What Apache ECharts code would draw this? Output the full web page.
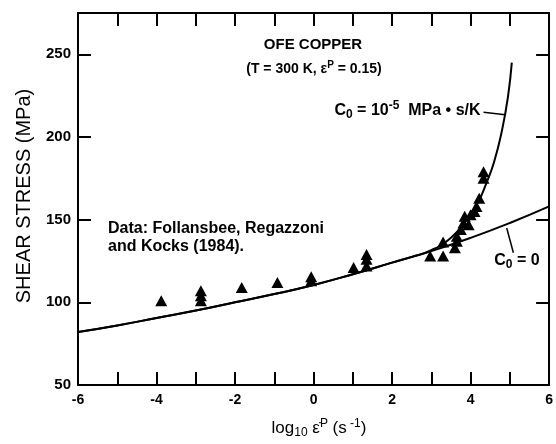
<!DOCTYPE html>
<html>
<head>
<meta charset="utf-8">
<script src="https://cdn.jsdelivr.net/npm/echarts@6/dist/echarts.min.js"></script>
<style>
  html, body { margin: 0; padding: 0; background: #fff; }
  #chart { width: 556px; height: 444px; }
</style>
</head>
<body>
<div id="chart"></div>
<script>
// Model curve for C0 = 0 (log10 strain rate vs. shear stress, MPa)
const rateC0Zero = [-6, -5, -4, -3, -2, -1, 0, 1, 2, 3, 4, 5, 6];
const stressC0Zero = [82, 86, 90.5, 95, 100, 105, 110.5, 117, 124, 131, 139, 148, 158];

// Model curve for C0 = 1e-5 MPa*s/K
const rateC0Visc = [-6, -5, -4, -3, -2, -1, 0, 1, 2, 2.5, 3, 3.5, 3.9, 4.2, 4.4, 4.6, 4.8, 4.95, 5.05];
const stressC0Visc = [82, 86, 90.5, 95, 100, 105, 110.5, 117, 124, 127.5, 131.5, 139, 150, 161, 172, 185, 204, 224, 245];

// Measured points (Follansbee, Regazzoni and Kocks, 1984)
const dataRate = [-3.88, -2.87, -2.87, -2.87, -1.83, -0.92, -0.06, -0.06, 1.02, 1.35, 1.35, 1.35,
                  2.97, 3.3, 3.3, 3.6, 3.65, 3.65, 3.75, 3.82, 3.85, 3.95, 4.0, 4.1, 4.15, 4.22, 4.33, 4.33];
const dataStress = [101, 101, 104, 107, 109, 112, 113, 115.5, 121, 122, 126, 129,
                    128, 128, 136.5, 133, 137, 140, 144, 148, 152, 147, 153, 155, 158, 163, 175, 179];

const xTicks = { min: -6, max: 6, step: 1, labelStep: 2 };
const yTicks = { min: 50, max: 275, step: 50 };

const pair = (xs, ys) => xs.map((x, i) => [x, ys[i]]);

const FONT = '"Liberation Sans", Arial, sans-serif';
const chart = echarts.init(document.getElementById('chart'));

const axisLine = { show: true, onZero: false, lineStyle: { color: '#000', width: 2 } };
const tickStyle = { show: true, inside: true, length: 13, lineStyle: { color: '#000', width: 2 } };

chart.setOption({
  animation: false,
  backgroundColor: '#fff',
  grid: { left: 78, right: 3, top: 13, bottom: 59 },
  xAxis: [
    {
      type: 'value', position: 'bottom', min: xTicks.min, max: xTicks.max, interval: xTicks.step,
      axisLine, axisTick: tickStyle, splitLine: { show: false },
      axisLabel: {
        color: '#000', fontFamily: FONT, fontWeight: 'bold', fontSize: 14, margin: 8,
        formatter: v => (v % xTicks.labelStep === 0 ? String(v) : '')
      }
    },
    {
      type: 'value', position: 'top', min: xTicks.min, max: xTicks.max, interval: xTicks.step,
      axisLine, axisTick: tickStyle, splitLine: { show: false }, axisLabel: { show: false }
    }
  ],
  yAxis: [
    {
      type: 'value', position: 'left', min: yTicks.min, max: yTicks.max, interval: yTicks.step,
      axisLine, axisTick: tickStyle, splitLine: { show: false },
      axisLabel: {
        color: '#000', fontFamily: FONT, fontWeight: 'bold', fontSize: 15, margin: 7,
        formatter: v => (v % yTicks.step === 0 ? String(v) : '')
      }
    },
    {
      type: 'value', position: 'right', min: yTicks.min, max: yTicks.max, interval: yTicks.step,
      axisLine, axisTick: tickStyle, splitLine: { show: false }, axisLabel: { show: false }
    }
  ],
  series: [
    {
      type: 'line', data: pair(rateC0Zero, stressC0Zero), smooth: true, showSymbol: false,
      lineStyle: { color: '#000', width: 2 }, z: 2
    },
    {
      type: 'line', data: pair(rateC0Visc, stressC0Visc), smooth: true, showSymbol: false,
      lineStyle: { color: '#000', width: 2 }, z: 2
    },
    {
      type: 'scatter', data: pair(dataRate, dataStress), symbol: 'triangle', symbolSize: [12, 11],
      itemStyle: { color: '#000', opacity: 1 }, z: 3
    }
  ]
});

// Annotations anchored in data coordinates
const px = (x, y) => chart.convertToPixel({ xAxisIndex: 0, yAxisIndex: 0 }, [x, y]);
const textStyleBase = { fill: '#000', fontFamily: FONT, fontWeight: 'bold', fontSize: 15 };
const small = size => ({ fontFamily: FONT, fontWeight: 'bold', fontSize: size });

const leadVisc = [px(4.33, 215), px(4.88, 213.5)];
const leadZero = [px(5.09, 130), px(4.92, 145)];

chart.setOption({
  graphic: [
    {
      type: 'text', x: 313, y: 45,
      style: Object.assign({}, textStyleBase, { text: 'OFE COPPER', align: 'center', verticalAlign: 'middle' })
    },
    {
      type: 'text', x: 314, y: 69,
      style: Object.assign({}, textStyleBase, {
        text: '(T = 300 K, ε{sup|P} = 0.15)', fontSize: 14, align: 'center', verticalAlign: 'middle',
        rich: { sup: Object.assign(small(10), { padding: [0, 0, 8, 0] }) }
      })
    },
    {
      type: 'text', x: leadVisc[0][0] - 3, y: leadVisc[0][1] - 2,
      style: Object.assign({}, textStyleBase, {
        text: 'C{sub|0} = 10{sup|-5}  MPa • s/K', fontSize: 16, align: 'right', verticalAlign: 'middle',
        rich: {
          sub: Object.assign(small(12), { padding: [8, 0, 0, 0] }),
          sup: Object.assign(small(12), { padding: [0, 0, 9, 0] })
        }
      })
    },
    {
      type: 'line', shape: { x1: leadVisc[0][0], y1: leadVisc[0][1], x2: leadVisc[1][0], y2: leadVisc[1][1] },
      style: { stroke: '#000', lineWidth: 1.5 }
    },
    {
      type: 'text', x: 517, y: 261,
      style: Object.assign({}, textStyleBase, {
        text: 'C{sub|0} = 0', fontSize: 16, align: 'center', verticalAlign: 'middle',
        rich: { sub: Object.assign(small(12), { padding: [8, 0, 0, 0] }) }
      })
    },
    {
      type: 'line', shape: { x1: leadZero[0][0], y1: leadZero[0][1], x2: leadZero[1][0], y2: leadZero[1][1] },
      style: { stroke: '#000', lineWidth: 1.5 }
    },
    {
      type: 'text', x: 108, y: 229,
      style: Object.assign({}, textStyleBase, { text: 'Data: Follansbee, Regazzoni', fontSize: 16, verticalAlign: 'middle' })
    },
    {
      type: 'text', x: 108, y: 247,
      style: Object.assign({}, textStyleBase, { text: 'and Kocks (1984).', fontSize: 16, verticalAlign: 'middle' })
    },
    {
      type: 'text', x: 24, y: 196, rotation: Math.PI / 2,
      style: { text: 'SHEAR STRESS (MPa)', fill: '#000', fontFamily: FONT, fontSize: 20,
               align: 'center', verticalAlign: 'middle' }
    },
    {
      type: 'text', x: 319, y: 428,
      style: {
        text: 'log{sub|10} {i|ε̇}{sup|P} (s{sup| -1})', fill: '#000', fontFamily: FONT, fontSize: 17,
        align: 'center', verticalAlign: 'middle',
        rich: {
          sub: { fontFamily: FONT, fontSize: 12, padding: [10, 0, 0, 0] },
          sup: { fontFamily: FONT, fontSize: 12, padding: [0, 0, 9, 0] },
          i: { fontFamily: FONT, fontSize: 17 }
        }
      }
    }
  ]
});
</script>
</body>
</html>
